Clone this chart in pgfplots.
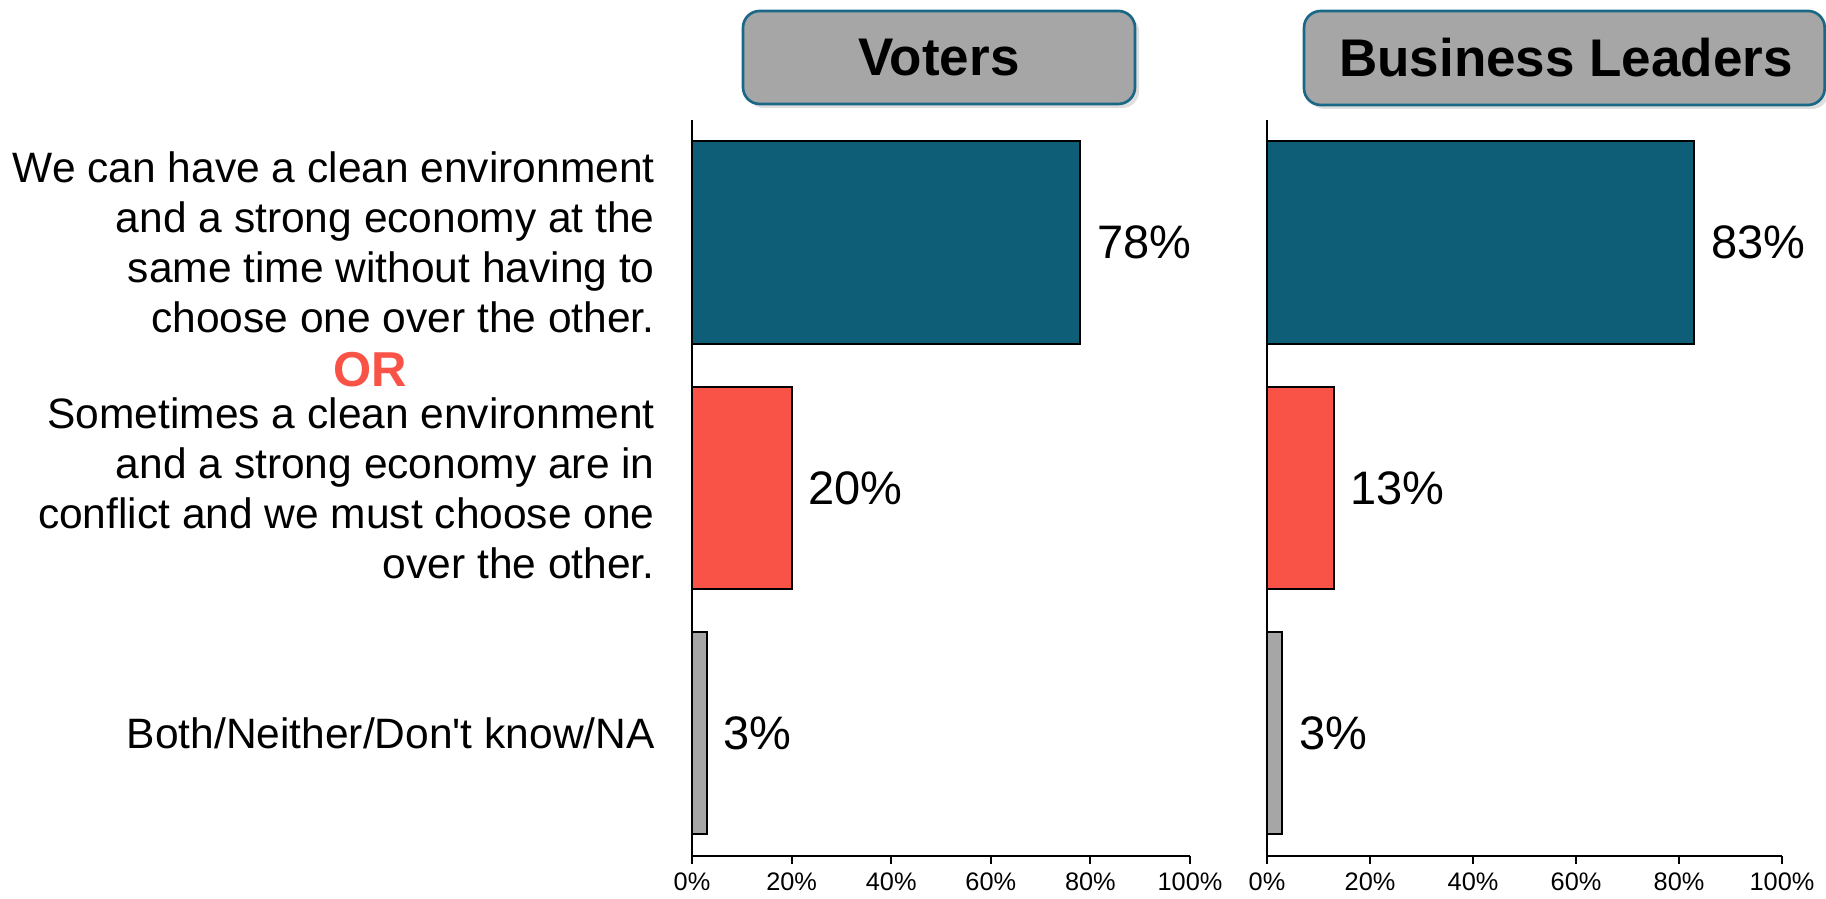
\documentclass[border=0pt]{standalone}
\usepackage{pgfplots}
\pgfplotsset{compat=1.18}
\usepackage{fontspec}
\setmainfont{Liberation Sans}
\usetikzlibrary{shadows}
\definecolor{cBlue}{RGB}{15,94,120}
\definecolor{cRed}{RGB}{249,82,71}
\definecolor{cGray}{RGB}{166,166,166}
\definecolor{cBorder}{RGB}{27,104,134}
\pgfplotsset{
  /pgf/number format/assume math mode=true,
  panel/.style={
    scale only axis,
    height=220.8pt,
    xmin=0, xmax=100, ymin=-0.5, ymax=2.5,
    xtick={0,20,40,60,80,100},
    xticklabel={\pgfmathprintnumber{\tick}\%},
    ytick={0,1,2},
    axis x line*=bottom, axis y line*=left,
    axis line style={black, line width=0.55pt},
    tick align=outside,
    major tick length=2.4pt,
    xtick style={black, line width=0.55pt},
    ytick style={draw=none},
    xticklabel style={font=\fontsize{7.6}{9}\selectfont, inner sep=0pt, yshift=-2.4pt},
    xbar, bar width=60.7pt, bar shift=0pt,
    clip=false,
    point meta=x,
    nodes near coords={\pgfmathprintnumber{\pgfplotspointmeta}\%},
    nodes near coords style={font=\fontsize{14.1}{16}\selectfont, anchor=west, inner sep=4.7pt},
    every axis plot/.append style={draw=black, line width=0.6pt},
  }
}
\begin{document}
\begin{tikzpicture}
\useasboundingbox (0,0) rectangle (547.8pt,269.7pt);
% Voters
\begin{axis}[panel, at={(207.6pt,12.9pt)}, anchor=south west, width=149.4pt,
  yticklabels={{Both/Neither/Don\textquotesingle t know/NA},
    {Sometimes a clean environment\\and a strong economy are in\\conflict and we must choose one\\over the other.},
    {We can have a clean environment\\and a strong economy at the\\same time without having to\\choose one over the other.}},
  yticklabel style={align=right, font=\fontsize{12.75}{15}\selectfont, inner sep=0pt, xshift=-8.6pt},
]
\addplot[fill=cBlue] coordinates {(78,2)};
\addplot[fill=cRed] coordinates {(20,1)};
\addplot[fill=cGray] coordinates {(3,0)};
\end{axis}
% Business Leaders
\begin{axis}[panel, at={(380.1pt,12.9pt)}, anchor=south west, width=154.5pt,
  yticklabels={},
]
\addplot[fill=cBlue] coordinates {(83,2)};
\addplot[fill=cRed] coordinates {(13,1)};
\addplot[fill=cGray] coordinates {(3,0)};
\end{axis}
% headers
\draw[cBorder, line width=0.8pt, fill=cGray, rounded corners=5pt,
  drop shadow={opacity=0.25, shadow xshift=1.2pt, shadow yshift=-1.2pt}]
  (222.9pt,238.5pt) rectangle (340.5pt,266.4pt);
\node[font=\bfseries\fontsize{15.9}{18}\selectfont] at (281.7pt,252.45pt) {Voters};
\draw[cBorder, line width=0.8pt, fill=cGray, rounded corners=5pt,
  drop shadow={opacity=0.25, shadow xshift=1.2pt, shadow yshift=-1.2pt}]
  (391.2pt,238.2pt) rectangle (547.4pt,266.4pt);
\node[font=\bfseries\fontsize{15.9}{18}\selectfont] at (469.8pt,252.3pt) {Business Leaders};
% OR
\node[font=\bfseries\fontsize{14.7}{17}\selectfont, text=cRed] at (111pt,158.7pt) {OR};
\end{tikzpicture}
\end{document}
